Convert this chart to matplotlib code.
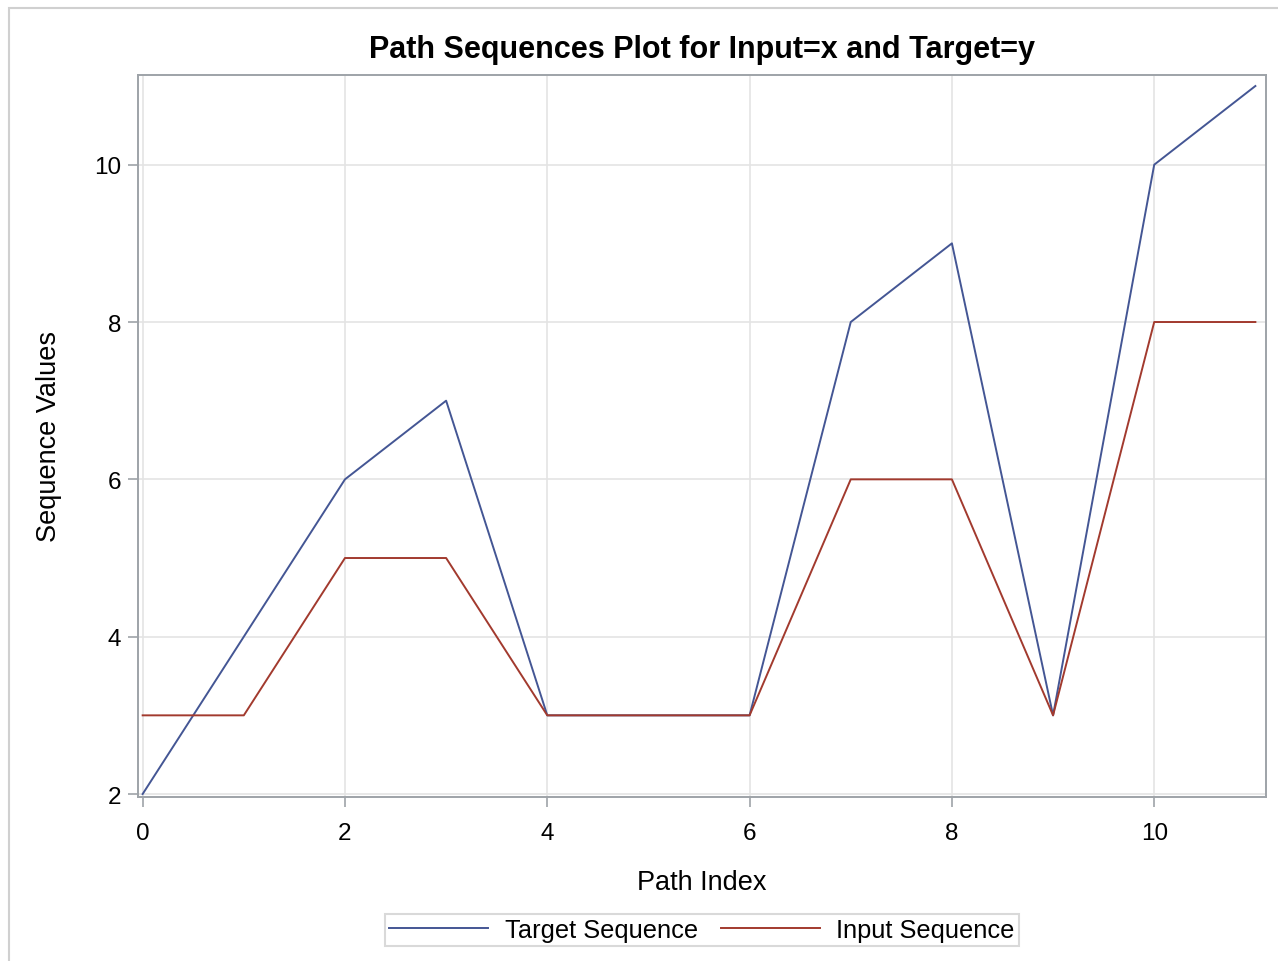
import matplotlib
matplotlib.use("Agg")
import matplotlib.pyplot as plt
from matplotlib.patches import Rectangle

path_index = [0, 1, 2, 3, 4, 5, 6, 7, 8, 9, 10, 11]
target_seq = [2, 4, 6, 7, 3, 3, 3, 8, 9, 3, 10, 11]
input_seq = [3, 3, 5, 5, 3, 3, 3, 6, 6, 3, 8, 8]
x_ticks = [0, 2, 4, 6, 8, 10]
y_ticks = [2, 4, 6, 8, 10]

plt.rcParams['font.family'] = ['Liberation Sans', 'DejaVu Sans']

W, H = 1278, 962
fig = plt.figure(figsize=(W / 100, H / 100), dpi=100)

# outer border
fig.patches.append(Rectangle((9 / W, -0.1), 1.2, 1 - 9 / H + 0.1, transform=fig.transFigure,
                             fill=False, edgecolor='#d0d0d0', linewidth=1.5))

l, r, t, b = 138, 1266, 76, 798
ax = fig.add_axes([l / W, 1 - b / H, (r - l) / W, (b - t) / H])

blue = '#445694'
red = '#A23A2E'
ax.plot(path_index, target_seq, color=blue, lw=1.4, label='Target Sequence')
ax.plot(path_index, input_seq, color=red, lw=1.4, label='Input Sequence')

ax.set_xlim(-0.046, 11.105)
ax.set_ylim(1.962, 11.14)
ax.set_xticks(x_ticks)
ax.set_yticks(y_ticks)
ax.grid(True, color='#e4e4e4', lw=1.2)
ax.set_axisbelow(True)
for s in ax.spines.values():
    s.set_color('#9ea3a8')
    s.set_linewidth(1.4)
ax.tick_params(axis='both', direction='out', length=7, width=1.2, color='#9ea3a8',
               labelsize=17.5, pad=5)
ax.tick_params(axis='x', pad=11)

ax.set_xlabel('Path Index', fontsize=19.5, labelpad=18)
ax.set_ylabel('Sequence Values', fontsize=19.5, labelpad=23)
ax.set_title('Path Sequences Plot for Input=x and Target=y', fontsize=22,
             fontweight='bold', pad=13)

leg = fig.legend(loc='center', bbox_to_anchor=(702 / W, 1 - 931 / H), ncol=2,
                 fontsize=18.3, frameon=True, fancybox=False, handlelength=3.9,
                 columnspacing=0.9, borderpad=0.15, handletextpad=0.65)
leg.get_frame().set_edgecolor('#d0d0d0')
leg.get_frame().set_linewidth(1.5)

fig.savefig('out.png', dpi=100)
